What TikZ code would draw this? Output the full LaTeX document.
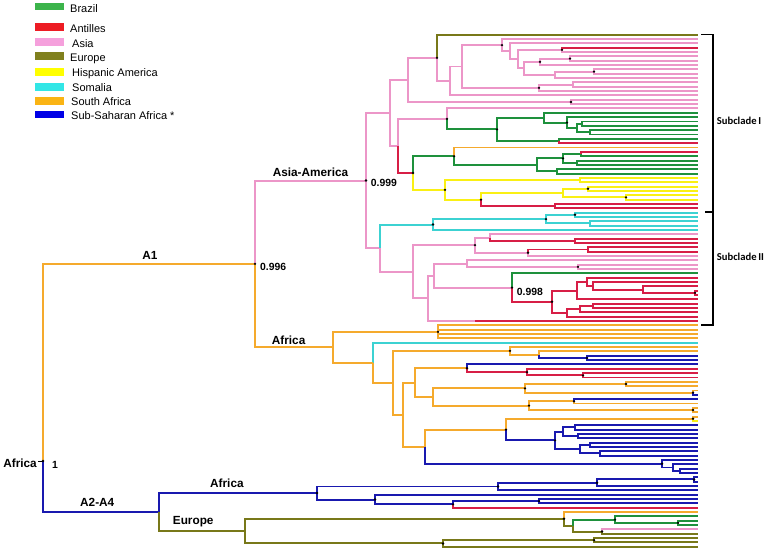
\documentclass[tikz,border=0pt]{standalone}
\usepackage{fontspec}
\setmainfont{Liberation Sans}
\newfontfamily\calfnt{Carlito}
\usetikzlibrary{calc}
\definecolor{cpk}{RGB}{236,150,200}
\definecolor{cgr}{RGB}{30,145,60}
\definecolor{crd}{RGB}{215,30,70}
\definecolor{cbl}{RGB}{25,25,175}
\definecolor{cor}{RGB}{245,170,45}
\definecolor{col}{RGB}{120,120,25}
\definecolor{ccy}{RGB}{60,210,210}
\definecolor{cye}{RGB}{250,240,20}
\definecolor{lgr}{RGB}{60,180,75}
\definecolor{lrd}{RGB}{237,28,36}
\definecolor{lpk}{RGB}{245,160,220}
\definecolor{lol}{RGB}{128,128,30}
\definecolor{lye}{RGB}{255,255,0}
\definecolor{lcy}{RGB}{50,230,230}
\definecolor{lor}{RGB}{250,180,20}
\definecolor{lbl}{RGB}{0,0,230}
\newcommand{\nd}[4]{\path let \p1=($(#3)!0.5!(#4)$) in (#2pt,\y1) coordinate (#1);}
\newcommand{\ed}[3]{\foreach \cc in {#3}{\draw[#1] (#2) |- (\cc);}}
\newcommand{\dts}[1]{\foreach \dd in {#1}{\fill (\dd) circle (1.3pt);}}
\begin{document}
\begin{tikzpicture}[x=1pt,y=-1pt,
  br/.style={line width=1.95pt},
  bpk/.style={br,draw=cpk}, bgr/.style={br,draw=cgr}, brd/.style={br,draw=crd},
  bbl/.style={br,draw=cbl}, bor/.style={br,draw=cor}, bol/.style={br,draw=col},
  bcy/.style={br,draw=ccy}, bye/.style={br,draw=cye},
  lab/.style={font=\fontsize{11.8}{13}\selectfont\bfseries, inner sep=0pt},
  num/.style={font=\fontsize{10.4}{12}\selectfont\bfseries, inner sep=0pt},
  leg/.style={font=\fontsize{11}{12}\selectfont, inner sep=0pt, anchor=base west},
  lgbox/.style={minimum width=29pt, minimum height=7.7pt, inner sep=0pt, draw=none},
  sub/.style={font=\calfnt\fontsize{10.6}{12}\selectfont\bfseries, inner sep=0pt, anchor=base west},
  brk/.style={line width=1.2pt, draw=black}]
\useasboundingbox (0,0) rectangle (777,550);
\fill[white] (0,0) rectangle (777,550);
% leaves
\foreach \i in {0,...,118}{\coordinate (L\i) at (698,{34.7+4.339*\i});}
% ---------- Subclade I
\nd{Ph}{562}{L3}{L4}
\nd{Pl}{570}{L5}{L6}
\nd{Pj}{540}{Pl}{L7}
\nd{Pm}{594}{L8}{L9}
\nd{Pk}{555}{Pm}{L10}
\nd{Pi}{524}{Pj}{Pk}
\nd{Pg}{518}{Ph}{Pi}
\nd{Pf}{510}{L2}{Pg}
\nd{Pd}{502}{L1}{Pf}
\nd{Pn}{573}{L11}{L12}
\nd{Pe}{539}{Pn}{L13}
\nd{Pb}{462}{Pd}{Pe}
\nd{Pa}{450}{Pb}{L14}
\nd{O}{437}{L0}{Pa}
\nd{Pq}{571}{L15}{L16}
\nd{SIa}{408}{O}{Pq}
\nd{Ga}{582}{L20}{L21}
\nd{Gb}{590}{L22}{L23}
\nd{Gc}{577}{Ga}{Gb}
\nd{Gd}{567}{L19}{Gc}
\nd{Ge}{544}{L18}{Gd}
\nd{Gf}{559}{L24}{L25}
\nd{Gg}{497}{Ge}{Gf}
\nd{Qa}{447}{L17}{Gg}
\nd{Qf}{581}{L27}{L28}
\nd{Qg}{577}{L29}{L30}
\nd{Qd}{563}{Qf}{Qg}
\nd{Qe}{557}{L31}{L32}
\nd{Qc}{537}{Qd}{Qe}
\nd{Qb}{454}{L26}{Qc}
\nd{Ya}{580}{L33}{L34}
\nd{Yb}{588}{L35}{L36}
\nd{Yc}{626}{L37}{L38}
\nd{Yd}{563}{Yb}{Yc}
\nd{Ye}{555}{L39}{L40}
\nd{Yf}{481}{Yd}{Ye}
\nd{Yg}{445}{Ya}{Yf}
\nd{Rr}{413}{Qb}{Yg}
\nd{SIb}{398}{Qa}{Rr}
\nd{SI}{390}{SIa}{SIb}
% ---------- Subclade II
\nd{Ca}{575}{L41}{L42}
\nd{Cb}{590}{L43}{L44}
\nd{Cn}{546}{Ca}{Cb}
\nd{Ca1}{433}{Cn}{L45}
\nd{Pr}{575}{L47}{L48}
\nd{Pp3}{490}{L46}{Pr}
\nd{Ps}{588}{L49}{L50}
\nd{Pp4}{528}{Ps}{L51}
\nd{Pp2}{475}{Pp3}{Pp4}
\nd{Pt}{578}{L53}{L54}
\nd{Pp7}{467}{L52}{Pt}
\nd{Rt}{695}{L59}{L60}
\nd{Rf5}{643}{L58}{Rt}
\nd{Rf4}{593}{L57}{Rf5}
\nd{Rf3}{587}{L56}{Rf4}
\nd{Rf2}{577}{Rf3}{L61}
\nd{Rv}{593}{L62}{L63}
\nd{Rf7}{580}{Rv}{L64}
\nd{Rf6}{567}{Rf7}{L65}
\nd{Rf1}{552}{Rf2}{Rf6}
\nd{Gx}{512}{L55}{Rf1}
\nd{Pp6}{434}{Pp7}{Gx}
\coordinate (Lx66) at ($(L66)+(-223,0)$);
\nd{Pp5}{428}{Pp6}{Lx66}
\nd{Pp1}{413}{Pp2}{Pp5}
\nd{S2}{380}{Ca1}{Pp1}
\nd{AA}{366}{SI}{S2}
% ---------- A1 Africa
\nd{T}{438}{L67}{L70}
\nd{NC}{587}{L74}{L75}
\nd{NB}{539}{L73}{NC}
\nd{NA}{510}{L72}{NB}
\nd{N5c}{583}{L78}{L79}
\nd{N5b}{527}{L77}{N5c}
\nd{N5}{467}{L76}{N5b}
\nd{N7a}{626}{L80}{L81}
\nd{N7b}{693}{L82}{L83}
\nd{N7}{525}{N7a}{N7b}
\nd{N9}{574}{L84}{L85}
\nd{N8b}{693}{L86}{L87}
\nd{N8}{529}{N9}{N8b}
\nd{N6}{433}{N7}{N8}
\nd{N4}{415}{N5}{N6}
\nd{N11a}{693}{L88}{L89}
\nd{Ua}{575}{L90}{L91}
\nd{Ub}{578}{L92}{L93}
\nd{U}{563}{Ua}{Ub}
\nd{Va}{590}{L94}{L95}
\nd{Vb}{600}{L96}{L97}
\nd{V}{580}{Va}{Vb}
\nd{N12}{555}{U}{V}
\nd{N11}{506}{N11a}{N12}
\nd{N13c}{680}{L100}{L101}
\nd{N13b}{673}{L99}{N13c}
\nd{N13}{662}{L98}{N13b}
\nd{N10}{425}{N11}{N13}
\nd{N3}{403}{N4}{N10}
\nd{N2}{393}{NA}{N3}
\nd{N1}{373}{L71}{N2}
\nd{AF}{333}{T}{N1}
\nd{A1}{255}{AA}{AF}
% ---------- A2-A4
\nd{Bt}{694}{L102}{L103}
\nd{B1a}{597}{Bt}{L104}
\nd{B1}{498}{B1a}{L105}
\nd{B4}{539}{L107}{L108}
\nd{B3}{453}{B4}{L109}
\nd{B2}{375}{L106}{B3}
\nd{BAf}{317}{B1}{B2}
\nd{E3b}{678}{L112}{L113}
\nd{E3}{615}{L111}{E3b}
\nd{E4}{602}{L114}{L115}
\nd{E2}{573}{E3}{E4}
\nd{E1}{564}{L110}{E2}
\nd{E6}{594}{L116}{L117}
\nd{E5}{443}{E6}{L118}
\nd{Eu}{245}{E1}{E5}
\nd{A24}{159}{BAf}{Eu}
\coordinate (Root) at (43,461);
\coordinate (Stub) at (38,461);
% ---------- edges
\ed{bor}{Root}{A1}
\ed{bbl}{Root}{A24}
\draw[line width=1pt] (Stub) -- (Root);
\ed{bpk}{A1}{AA}
\ed{bor}{A1}{AF}
\ed{bpk}{AA}{SI,S2}
\ed{bpk}{SI}{SIa,SIb}
\ed{bpk}{SIa}{O,Pq}
\ed{bol}{O}{L0}
\ed{bpk}{O}{Pa}
\ed{bpk}{Pa}{Pb,L14}
\ed{bpk}{Pb}{Pd,Pe}
\ed{bpk}{Pd}{L1,Pf}
\ed{bpk}{Pf}{L2,Pg}
\ed{bpk}{Pg}{Ph,Pi}
\ed{brd}{Ph}{L3}
\ed{bpk}{Ph}{L4}
\ed{bpk}{Pi}{Pj,Pk}
\ed{bpk}{Pj}{Pl,L7}
\ed{bpk}{Pl}{L5,L6}
\ed{bpk}{Pk}{Pm,L10}
\ed{bpk}{Pm}{L8,L9}
\ed{bpk}{Pe}{Pn,L13}
\ed{bpk}{Pn}{L11,L12}
\ed{bpk}{Pq}{L15,L16}
\ed{bpk}{SIb}{Qa}
\ed{brd}{SIb}{Rr}
\ed{bpk}{Qa}{L17}
\ed{bgr}{Qa}{Gg}
\ed{bgr}{Gg}{Ge,Gf}
\ed{bgr}{Ge}{L18,Gd}
\ed{bgr}{Gd}{L19,Gc}
\ed{bgr}{Gc}{Ga,Gb}
\ed{bgr}{Ga}{L20,L21}
\ed{bgr}{Gb}{L22,L23}
\ed{bgr}{Gf}{L24}
\ed{brd}{Gf}{L25}
\ed{bgr}{Rr}{Qb}
\ed{bye}{Rr}{Yg}
\ed{bor}{Qb}{L26}
\ed{bgr}{Qb}{Qc}
\ed{bgr}{Qc}{Qd,Qe}
\ed{bgr}{Qd}{Qf,Qg}
\ed{brd}{Qf}{L27}
\ed{bgr}{Qf}{L28}
\ed{bgr}{Qg}{L29,L30}
\ed{bgr}{Qe}{L31,L32}
\ed{bye}{Yg}{Ya,Yf}
\ed{bye}{Ya}{L33,L34}
\ed{bye}{Yf}{Yd}
\ed{brd}{Yf}{Ye}
\ed{bye}{Yd}{Yb,Yc}
\ed{bye}{Yb}{L35,L36}
\ed{bye}{Yc}{L37,L38}
\ed{brd}{Ye}{L39,L40}
\ed{bcy}{S2}{Ca1}
\ed{bpk}{S2}{Pp1}
\ed{bcy}{Ca1}{Cn,L45}
\ed{bcy}{Cn}{Ca,Cb}
\ed{bcy}{Ca}{L41,L42}
\ed{bcy}{Cb}{L43,L44}
\ed{bpk}{Pp1}{Pp2,Pp5}
\ed{bpk}{Pp2}{Pp3,Pp4}
\ed{bpk}{Pp3}{L46}
\ed{brd}{Pp3}{Pr}
\ed{brd}{Pr}{L47,L48}
\ed{brd}{Pp4}{Ps}
\ed{bpk}{Pp4}{L51}
\ed{brd}{Ps}{L49,L50}
\ed{bpk}{Pp5}{Pp6,Lx66}
\draw[brd] (Lx66) -- (L66);
\ed{bpk}{Pp6}{Pp7,Gx}
\ed{bpk}{Pp7}{L52,Pt}
\ed{bpk}{Pt}{L53,L54}
\ed{bgr}{Gx}{L55}
\ed{brd}{Gx}{Rf1}
\ed{brd}{Rf1}{Rf2,Rf6}
\ed{brd}{Rf2}{Rf3,L61}
\ed{brd}{Rf3}{L56,Rf4}
\ed{brd}{Rf4}{L57,Rf5}
\ed{brd}{Rf5}{L58,Rt}
\ed{brd}{Rt}{L59,L60}
\ed{brd}{Rf6}{Rf7,L65}
\ed{brd}{Rf7}{Rv,L64}
\ed{brd}{Rv}{L62,L63}
\ed{bor}{AF}{T}
\ed{bor}{T}{L67,L68,L69,L70}
\ed{bcy}{N1}{L71}
\ed{bor}{AF}{N1}
\ed{bor}{N1}{N2}
\ed{bor}{N2}{NA,N3}
\ed{bor}{NA}{L72,NB}
\ed{bor}{NB}{L73}
\ed{bbl}{NB}{NC}
\ed{bbl}{NC}{L74,L75}
\ed{bor}{N3}{N4,N10}
\ed{bor}{N4}{N5,N6}
\ed{bbl}{N5}{L76}
\ed{brd}{N5}{N5b}
\ed{brd}{N5b}{L77,N5c}
\ed{brd}{N5c}{L78,L79}
\ed{bor}{N6}{N7,N8}
\ed{bor}{N7}{N7a,N7b}
\ed{bor}{N7a}{L80,L81}
\ed{bor}{N7b}{L82}
\ed{bbl}{N7b}{L83}
\ed{bor}{N8}{N9,N8b}
\ed{bbl}{N9}{L84}
\ed{bor}{N9}{L85}
\ed{bor}{N8b}{L86,L87}
\ed{bor}{N10}{N11}
\ed{bbl}{N10}{N13}
\ed{bor}{N11}{N11a}
\ed{bor}{N11a}{L88}
\ed{bye}{N11a}{L89}
\ed{bbl}{N11}{N12}
\ed{bbl}{N12}{U,V}
\ed{bbl}{U}{Ua,Ub}
\ed{bbl}{Ua}{L90,L91}
\ed{bbl}{Ub}{L92,L93}
\ed{bbl}{V}{Va,Vb}
\ed{bbl}{Va}{L94,L95}
\ed{bbl}{Vb}{L96,L97}
\ed{bbl}{N13}{L98,N13b}
\ed{bbl}{N13b}{L99,N13c}
\ed{bbl}{N13c}{L100,L101}
\ed{bbl}{A24}{BAf}
\ed{bol}{A24}{Eu}
\ed{bbl}{BAf}{B1,B2}
\ed{bbl}{B1}{B1a,L105}
\ed{bbl}{B1a}{Bt,L104}
\ed{bbl}{Bt}{L102,L103}
\ed{bbl}{B2}{L106,B3}
\ed{bbl}{B3}{B4}
\ed{brd}{B3}{L109}
\ed{bbl}{B4}{L107,L108}
\ed{bol}{Eu}{E1,E5}
\ed{bor}{E1}{L110}
\ed{bol}{E1}{E2}
\ed{bgr}{E2}{E3}
\ed{bol}{E2}{E4}
\ed{bgr}{E3}{L111,E3b}
\ed{bgr}{E3b}{L112,L113}
\ed{bpk}{E4}{L114}
\ed{bol}{E4}{L115}
\ed{bol}{E5}{E6,L118}
\ed{bol}{E6}{L116,L117}
% ---------- dots
\dts{Root,A1,AA,O,Pd,Ph,Pj,Pl,Pm,Pe,Pq,Qa,Gg,Gd,Rr,Qb,Qd,Yg,Yf,Yb,Yc,Ca1,Cn,Ca,Pp2,Pp4,Pt,Gx,Rf1,Rt,T,NA,NC,N5,N5b,N5c,N7,N7a,N7b,N8,N9,N11,N11a,N12,N8b,N13,BAf,B1,B1a,Bt,B2,B3,B4,E1,E3,E3b,E4,E5,E6}
% ---------- labels
\node[lab, anchor=base east] (tRoot) at (37,467) {Africa};
\node[num, anchor=base west] (tOne) at (52,468) {1};
\node[lab, anchor=base] (tA1) at (150,259) {A1};
\node[num, anchor=base west] (tA1p) at (260,270.7) {0.996};
\node[lab, anchor=base] (tAA) at (310.5,176.7) {Asia-America};
\node[num, anchor=base west] (tAAp) at (370.7,186.7) {0.999};
\node[lab, anchor=base west] (tAf1) at (271.7,344) {Africa};
\node[num, anchor=base west] (tGp) at (516.7,295.7) {0.998};
\node[lab, anchor=base west] (tA24) at (80,506.7) {A2-A4};
\node[lab, anchor=base west] (tAf2) at (210,487.3) {Africa};
\node[lab, anchor=base west] (tEu) at (172.7,524) {Europe};
% ---------- brackets
\coordinate (k1) at (701,34.5);
\coordinate (k2) at (713,34.5);
\coordinate (k3) at (713,325);
\coordinate (k4) at (701,325);
\coordinate (k5) at (705,212);
\coordinate (k6) at (713,212);
\draw[brk] (k1) -- (k2) -- (k3) -- (k4);
\draw[brk] (k5) -- (k6);
\node[sub] (tS1) at (716.7,124) {Subclade\,I};
\node[sub] (tS2) at (716.7,260.7) {Subclade\,II};
% ---------- legend
\node[lgbox, fill=lgr] (g1) at (49.5,6.4) {};
\node[lgbox, fill=lrd] (g2) at (49.5,27.3) {};
\node[lgbox, fill=lpk] (g3) at (49.5,42.3) {};
\node[lgbox, fill=lol] (g4) at (49.5,56.3) {};
\node[lgbox, fill=lye] (g5) at (49.5,71.7) {};
\node[lgbox, fill=lcy] (g6) at (49.5,86.7) {};
\node[lgbox, fill=lor] (g7) at (49.5,100.7) {};
\node[lgbox, fill=lbl] (g8) at (49.5,114.5) {};
\node[leg] (h1) at (70,12) {Brazil};
\node[leg] (h2) at (70,32.3) {Antilles};
\node[leg] (h3) at (72,47.3) {Asia};
\node[leg] (h4) at (70,61) {Europe};
\node[leg] (h5) at (72,76.5) {Hispanic America};
\node[leg] (h6) at (72,91.7) {Somalia};
\node[leg] (h7) at (71,105.5) {South Africa};
\node[leg] (h8) at (71,119.5) {Sub-Saharan Africa *};
\end{tikzpicture}
\end{document}
